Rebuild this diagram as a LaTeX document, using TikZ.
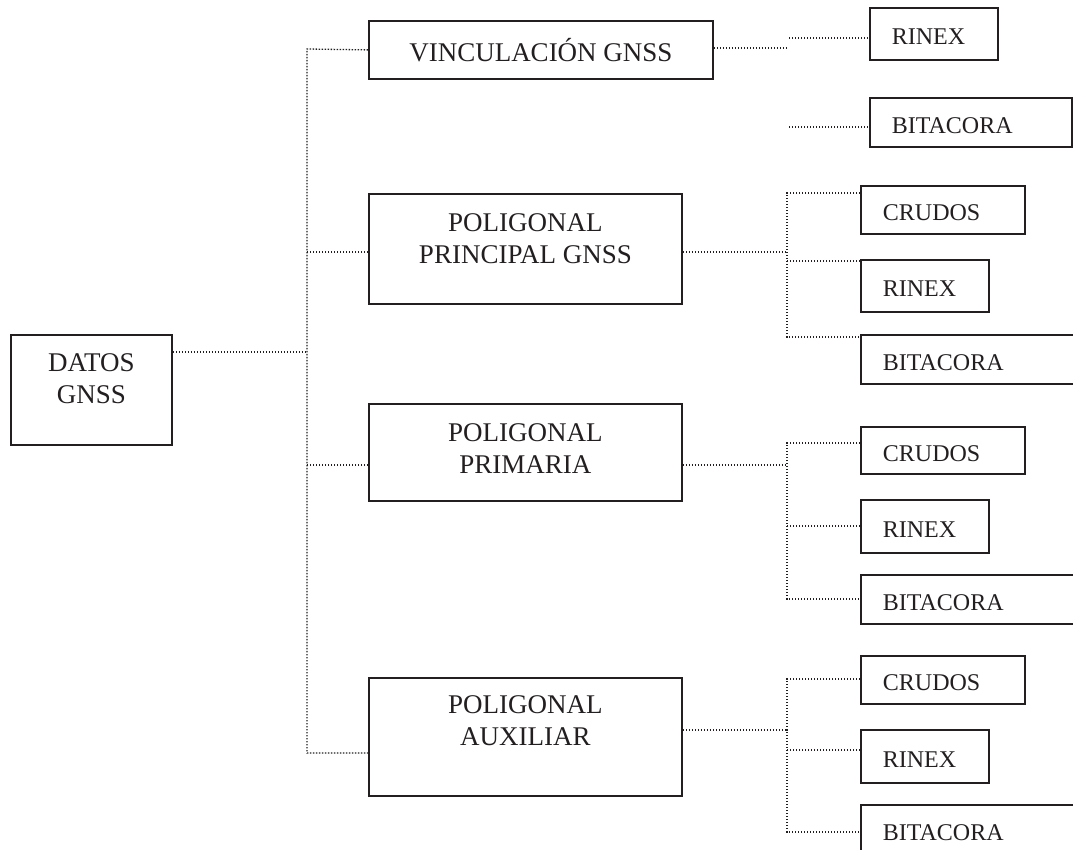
\documentclass[tikz,border=0pt]{standalone}
\usepackage{fontspec}
\setmainfont{Liberation Serif}
\begin{document}
\begin{tikzpicture}[x=1pt,y=-1pt,
  bigbox/.style={draw=ink,line width=1.8pt,anchor=north west,inner sep=0pt},
  bigtxt/.style={text=ink,align=center,inner sep=0pt,anchor=north,font=\fontsize{27}{32}\selectfont},
  sbox/.style={draw=ink,line width=1.8pt,anchor=north west,inner xsep=22pt,inner ysep=0pt,align=left,text=ink,text height=22pt,font=\fontsize{24}{28}\selectfont},
  conn/.style={draw=ink,line width=1.3pt,dash pattern=on 1.3pt off 1.7pt}]
\definecolor{ink}{HTML}{231F20}
\useasboundingbox (0,0) rectangle (1073,849);
% main boxes
\node[bigbox,minimum width=161pt,minimum height=110pt] (datos) at (10,334) {};
\node[bigtxt] (datost) at ([yshift=-19pt]datos.north) {DATOS\\GNSS};
\node[draw=ink,line width=1.8pt,minimum width=344pt,minimum height=58pt,anchor=north west,inner sep=0pt,text=ink,font=\fontsize{27}{32}\selectfont] (vinc) at (368,20) {VINCULACIÓN GNSS};
\node[bigbox,minimum width=313pt,minimum height=110pt] (ppal) at (368,193) {};
\node[bigtxt] (ppalt) at ([yshift=-20pt]ppal.north) {POLIGONAL\\PRINCIPAL GNSS};
\node[bigbox,minimum width=313pt,minimum height=97pt] (prim) at (368,403) {};
\node[bigtxt] (primt) at ([yshift=-20pt]prim.north) {POLIGONAL\\PRIMARIA};
\node[bigbox,minimum width=313pt,minimum height=118pt] (aux) at (368,677) {};
\node[bigtxt] (auxt) at ([yshift=-18pt]aux.north) {POLIGONAL\\AUXILIAR};
% small boxes
\node[sbox,text width=84pt,minimum height=52pt] (vr) at (869,7) {RINEX};
\node[sbox,text width=158pt,minimum height=49pt] (vb) at (869,97) {BITACORA};
\node[sbox,text width=120pt,minimum height=48pt] (pc) at (860,185) {CRUDOS};
\node[sbox,text width=84pt,minimum height=52pt] (pr) at (860,259) {RINEX};
\node[sbox,text width=169pt,minimum height=49pt] (pb) at (860,334) {BITACORA};
\node[sbox,text width=120pt,minimum height=47pt] (mc) at (860,426) {CRUDOS};
\node[sbox,text width=84pt,minimum height=53pt] (mr) at (860,499) {RINEX};
\node[sbox,text width=169pt,minimum height=49pt] (mb) at (860,574) {BITACORA};
\node[sbox,text width=120pt,minimum height=48pt] (ac) at (860,655) {CRUDOS};
\node[sbox,text width=84pt,minimum height=53pt] (ar) at (860,729) {RINEX};
\node[sbox,text width=169pt,minimum height=49pt] (ab) at (860,804) {BITACORA};
% left tree
\coordinate (jD) at (307,352);
\coordinate (jTop) at (307,49);
\coordinate (jBot) at (307,753);
\coordinate (jP) at (787,252);
\coordinate (jM) at (787,465);
\coordinate (jA) at (787,730);
\draw[conn] (datos.east |- jD) -- (jD);
\draw[conn] (vinc.west) -- (jTop) -- (jBot) -- (aux.west |- jBot);
\draw[conn] (ppal.west |- jP) -- (jTop |- jP);
\draw[conn] (prim.west |- jM) -- (jTop |- jM);
% vinculacion right
\coordinate (jV) at (788,48);
\coordinate (sV1) at (789,38);
\coordinate (sV2) at (789,127);
\draw[conn] (vinc.east |- jV) -- (jV);
\draw[conn] (sV1) -- (vr.west |- sV1);
\draw[conn] (sV2) -- (vb.west |- sV2);
% principal right
\coordinate (pc1) at ([yshift=-8pt]pc.north west);
\coordinate (pr1) at ([yshift=-2pt]pr.north west);
\coordinate (pb1) at ([yshift=-3pt]pb.north west);
\draw[conn] (ppal.east |- jP) -- (jP);
\draw[conn] (pc1) -| (jP) |- (pb1);
\draw[conn] (pr1) -- (jP |- pr1);
% primaria right
\coordinate (mc1) at ([yshift=-17pt]mc.north west);
\coordinate (mr1) at ([yshift=-27pt]mr.north west);
\coordinate (mb1) at ([yshift=-25pt]mb.north west);
\draw[conn] (prim.east |- jM) -- (jM);
\draw[conn] (mc1) -| (jM) |- (mb1);
\draw[conn] (mr1) -- (jM |- mr1);
% auxiliar right
\coordinate (ac1) at ([yshift=-24pt]ac.north west);
\coordinate (ar1) at ([yshift=-21pt]ar.north west);
\coordinate (ab1) at ([yshift=-28pt]ab.north west);
\draw[conn] (aux.east |- jA) -- (jA);
\draw[conn] (ac1) -| (jA) |- (ab1);
\draw[conn] (ar1) -- (jA |- ar1);
\end{tikzpicture}
\end{document}
